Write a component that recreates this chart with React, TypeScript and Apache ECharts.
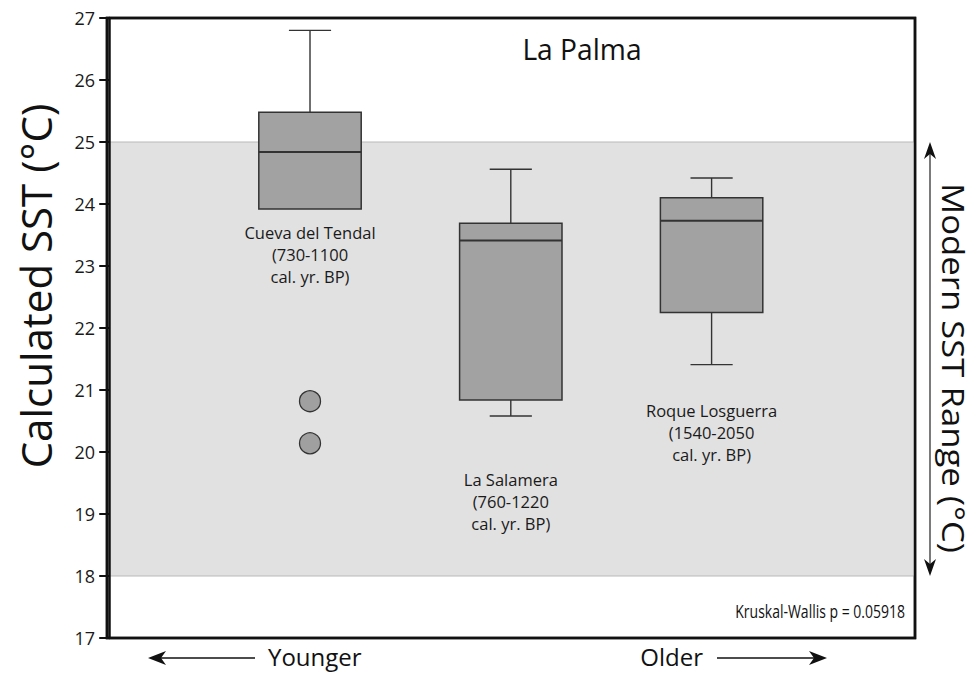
import React, { useEffect, useRef } from "react";
import * as echarts from "echarts";

// ---- data ----
const sites = ["Cueva del Tendal", "La Salamera", "Roque Losguerra"];
const siteAges = ["(730-1100", "(760-1220", "(1540-2050"];
const sitePos = [1, 2, 3];
const lowWhisker = [23.92, 20.58, 21.41];
const q1 = [23.92, 20.84, 22.25];
const median = [24.84, 23.41, 23.73];
const q3 = [25.48, 23.69, 24.1];
const highWhisker = [26.8, 24.56, 24.42];
const outlierSite = [1, 1];
const outlierValue = [20.82, 20.14];
const modernRange = [18, 25];
const yMin = 17;
const yMax = 27;
const yStep = 1;
const title = "La Palma";
const statText = "Kruskal-Wallis p = 0.05918";
// label anchor (top of the label block), in °C units
const labelTop = [23.71, 19.74, 20.84];

const FONT = "'Open Sans', 'Noto Sans', sans-serif";

export default function App() {
  const ref = useRef<HTMLDivElement>(null);

  useEffect(() => {
    if (!ref.current) return;
    const chart = echarts.init(ref.current, undefined, { renderer: "svg" });

    const boxData = sitePos.map((p, i) => [
      p,
      lowWhisker[i],
      q1[i],
      median[i],
      q3[i],
      highWhisker[i],
      i,
    ]);

    const option: any = {
      animation: false,
      backgroundColor: "#ffffff",
      textStyle: { fontFamily: FONT },
      grid: {
        left: 107,
        right: 58,
        top: 18,
        bottom: 35,
        show: true,
        borderColor: "#111",
        borderWidth: 2.5,
        backgroundColor: "transparent",
      },
      xAxis: {
        type: "value",
        min: -0.011,
        max: 4.013,
        show: false,
        splitLine: { show: false },
      },
      yAxis: {
        type: "value",
        min: yMin,
        max: yMax,
        interval: yStep,
        z: 10,
        axisLine: { show: true, lineStyle: { color: "#111", width: 2.5 } },
        axisTick: { show: true, length: 10, lineStyle: { color: "#111", width: 2 } },
        axisLabel: { color: "#1a1a1a", fontSize: 18, fontFamily: FONT, margin: 12 },
        splitLine: { show: false },
      },
      series: [
        {
          type: "line",
          data: [],
          z: -1,
          silent: true,
          markArea: {
            silent: true,
            itemStyle: { color: "#e1e1e1", borderColor: "#b9b9b9", borderWidth: 1.2 },
            data: [[{ yAxis: modernRange[0] }, { yAxis: modernRange[1] }]],
          },
        },
        {
          type: "custom",
          z: 3,
          silent: true,
          data: boxData,
          encode: { x: 0, y: [1, 2, 3, 4, 5] },
          renderItem: (params: any, api: any) => {
            const x = api.value(0);
            const idx = api.value(6);
            const pLow = api.coord([x, api.value(1)]);
            const pQ1 = api.coord([x, api.value(2)]);
            const pMed = api.coord([x, api.value(3)]);
            const pQ3 = api.coord([x, api.value(4)]);
            const pHigh = api.coord([x, api.value(5)]);
            const pLab = api.coord([x, labelTop[idx]]);
            const unit = api.size([1, 0])[0];
            const halfW = unit * 0.255;
            const capHalf = unit * 0.105;
            const cx = pMed[0];
            const stroke = { stroke: "#333", lineWidth: 1.4 };
            const children: any[] = [];
            if (pHigh[1] < pQ3[1]) {
              children.push({
                type: "line",
                shape: { x1: cx, y1: pQ3[1], x2: cx, y2: pHigh[1] },
                style: stroke,
              });
              children.push({
                type: "line",
                shape: { x1: cx - capHalf, y1: pHigh[1], x2: cx + capHalf, y2: pHigh[1] },
                style: stroke,
              });
            }
            if (pLow[1] > pQ1[1] + 0.5) {
              children.push({
                type: "line",
                shape: { x1: cx, y1: pQ1[1], x2: cx, y2: pLow[1] },
                style: stroke,
              });
              children.push({
                type: "line",
                shape: { x1: cx - capHalf, y1: pLow[1], x2: cx + capHalf, y2: pLow[1] },
                style: stroke,
              });
            }
            children.push({
              type: "rect",
              shape: { x: cx - halfW, y: pQ3[1], width: halfW * 2, height: pQ1[1] - pQ3[1] },
              style: { fill: "#a2a2a2", stroke: "#333", lineWidth: 1.5 },
            });
            children.push({
              type: "line",
              shape: { x1: cx - halfW, y1: pMed[1], x2: cx + halfW, y2: pMed[1] },
              style: { stroke: "#333", lineWidth: 2 },
            });
            children.push({
              type: "text",
              x: cx,
              y: pLab[1],
              style: {
                text: sites[idx] + "\n" + siteAges[idx] + "\ncal. yr. BP)",
                fill: "#1a1a1a",
                font: `16.5px ${FONT}`,
                lineHeight: 22,
                align: "center",
                verticalAlign: "top",
              },
            });
            return { type: "group", children };
          },
        },
        {
          type: "scatter",
          z: 4,
          silent: true,
          symbol: "circle",
          symbolSize: 21,
          itemStyle: { color: "#a0a0a0", borderColor: "#333", borderWidth: 1.3, opacity: 1 },
          data: outlierSite.map((s, i) => [s, outlierValue[i]]),
        },
      ],
    };

    chart.setOption(option);

    const top = chart.convertToPixel({ gridIndex: 0 }, [0, modernRange[1]]) as number[];
    const bot = chart.convertToPixel({ gridIndex: 0 }, [0, modernRange[0]]) as number[];
    const gTop = chart.convertToPixel({ gridIndex: 0 }, [0, yMax]) as number[];
    const gBot = chart.convertToPixel({ gridIndex: 0 }, [0, yMin]) as number[];
    const gridLeft = 107;
    const gridRight = 973 - 58;
    const ax = gridRight + 15;
    const arrowY = gBot[1] + 20;

    chart.setOption({
      graphic: [
        {
          type: "rect",
          z: 100,
          silent: true,
          shape: { x: gridLeft, y: gTop[1], width: gridRight - gridLeft, height: gBot[1] - gTop[1] },
          style: { fill: "none", stroke: "#111", lineWidth: 2.5 },
        },
        {
          type: "text",
          x: 582,
          y: gTop[1] + 31,
          scaleX: 0.94,
          style: {
            text: title,
            font: `30px ${FONT}`,
            fill: "#111",
            align: "center",
            verticalAlign: "middle",
          },
        },
        {
          type: "text",
          x: 35,
          y: 286,
          rotation: Math.PI / 2,
          style: {
            text: "Calculated SST (°C)",
            font: `42px ${FONT}`,
            fill: "#111",
            align: "center",
            verticalAlign: "middle",
          },
        },
        {
          type: "text",
          x: 954,
          y: 368,
          rotation: -Math.PI / 2,
          scaleX: 1.12,
          style: {
            text: "Modern SST Range (°C)",
            font: `31px ${FONT}`,
            fill: "#111",
            align: "center",
            verticalAlign: "middle",
          },
        },
        {
          type: "line",
          shape: { x1: ax, y1: top[1] + 10, x2: ax, y2: bot[1] - 10 },
          style: { stroke: "#222", lineWidth: 1.2 },
        },
        {
          type: "polygon",
          shape: { points: [[ax, top[1]], [ax - 6, top[1] + 17], [ax, top[1] + 12], [ax + 6, top[1] + 17]] },
          style: { fill: "#111" },
        },
        {
          type: "polygon",
          shape: { points: [[ax, bot[1]], [ax - 6, bot[1] - 17], [ax, bot[1] - 12], [ax + 6, bot[1] - 17]] },
          style: { fill: "#111" },
        },
        {
          type: "text",
          x: gridRight - 10,
          y: gBot[1] - 27,
          scaleX: 0.8,
          style: {
            text: statText,
            font: `17.5px ${FONT}`,
            fill: "#111",
            align: "right",
            verticalAlign: "middle",
          },
        },
        // Younger arrow
        {
          type: "line",
          shape: { x1: 160, y1: arrowY, x2: 255, y2: arrowY },
          style: { stroke: "#111", lineWidth: 1.4 },
        },
        {
          type: "polygon",
          shape: { points: [[148, arrowY], [166, arrowY - 7], [161, arrowY], [166, arrowY + 7]] },
          style: { fill: "#111" },
        },
        {
          type: "text",
          x: 268,
          y: arrowY - 2,
          style: { text: "Younger", font: `24px ${FONT}`, fill: "#111", align: "left", verticalAlign: "middle" },
        },
        {
          type: "text",
          x: 703,
          y: arrowY - 2,
          style: { text: "Older", font: `24px ${FONT}`, fill: "#111", align: "right", verticalAlign: "middle" },
        },
        {
          type: "line",
          shape: { x1: 717, y1: arrowY, x2: 815, y2: arrowY },
          style: { stroke: "#111", lineWidth: 1.4 },
        },
        {
          type: "polygon",
          shape: { points: [[827, arrowY], [809, arrowY - 7], [814, arrowY], [809, arrowY + 7]] },
          style: { fill: "#111" },
        },
      ],
    });

    return () => chart.dispose();
  }, []);

  return (
    <div
      ref={ref}
      style={{ position: "fixed", left: 0, top: 0, width: 973, height: 673, background: "#fff" }}
    />
  );
}
